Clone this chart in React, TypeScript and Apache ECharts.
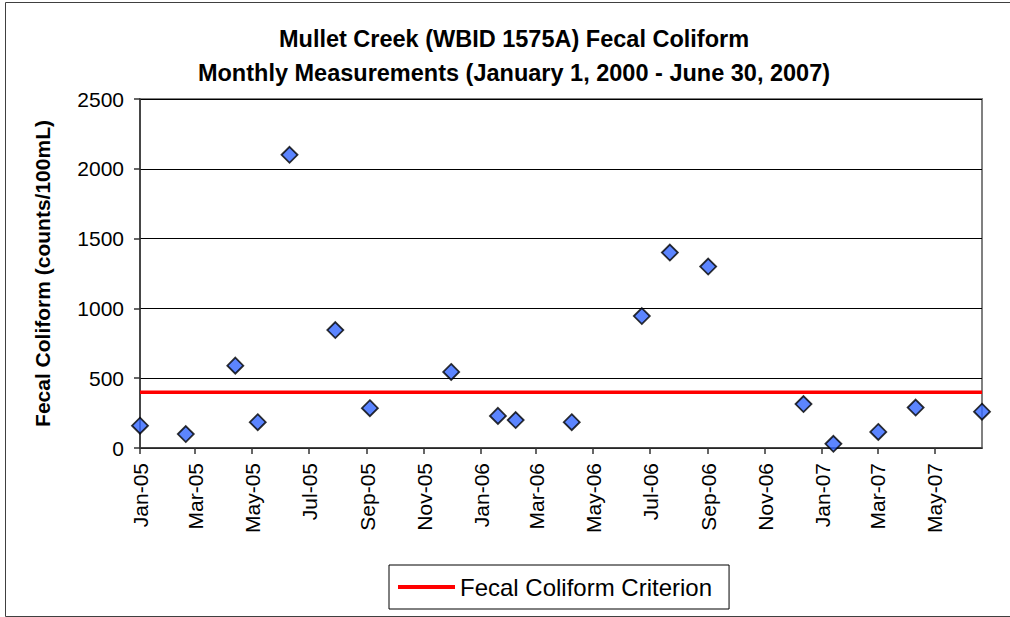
import React, { useEffect, useRef } from "react";
import * as echarts from "echarts";

const sampleDates = [
  "2005-01-01", "2005-02-19", "2005-04-13", "2005-05-07", "2005-06-10",
  "2005-07-29", "2005-09-04", "2005-11-30", "2006-01-19", "2006-02-07",
  "2006-04-08", "2006-06-22", "2006-07-22", "2006-09-01", "2006-12-12",
  "2007-01-13", "2007-03-02", "2007-04-11", "2007-06-21",
];
const fecalValues = [
  160, 100, 590, 185, 2100,
  845, 285, 545, 230, 200,
  185, 945, 1400, 1300, 315,
  30, 115, 290, 260,
];
const criterionDates = ["2005-01-01", "2007-06-21"];
const criterionValues = [400, 400];
const xTickDates = [
  "2005-01-01", "2005-03-01", "2005-05-01", "2005-07-01", "2005-09-01",
  "2005-11-01", "2006-01-01", "2006-03-01", "2006-05-01", "2006-07-01",
  "2006-09-01", "2006-11-01", "2007-01-01", "2007-03-01", "2007-05-01",
];
const monthAbbr = ["Jan", "Feb", "Mar", "Apr", "May", "Jun", "Jul", "Aug", "Sep", "Oct", "Nov", "Dec"];
const yMin = 0;
const yMax = 2500;
const yStep = 500;

const FONT = "'Liberation Sans', Arial, Helvetica, sans-serif";

function ts(d: string): number {
  const [y, m, dd] = d.split("-").map(Number);
  return Date.UTC(y, m - 1, dd);
}

function fmtTick(v: number): string {
  const d = new Date(v);
  const yy = String(d.getUTCFullYear() % 100).padStart(2, "0");
  return `${monthAbbr[d.getUTCMonth()]}-${yy}`;
}

export default function App() {
  const ref = useRef<HTMLDivElement>(null);

  useEffect(() => {
    document.body.style.margin = "0";
    if (!ref.current) return;
    const chart = echarts.init(ref.current, undefined, { renderer: "svg" });
    const tickTs = xTickDates.map(ts);
    const scatterData = sampleDates.map((d, i) => [ts(d), fecalValues[i]]);
    const critData = criterionDates.map((d, i) => [ts(d), criterionValues[i]]);

    chart.setOption({
      animation: false,
      backgroundColor: "#ffffff",
      title: {
        text: "Mullet Creek (WBID 1575A) Fecal Coliform\nMonthly Measurements (January 1, 2000 - June 30, 2007)",
        left: 514,
        textAlign: "center",
        top: 22,
        padding: 0,
        textStyle: {
          fontFamily: FONT,
          fontSize: 23.5,
          fontWeight: "bold",
          color: "#000",
          lineHeight: 34,
        },
      },
      graphic: [
        {
          type: "rect",
          shape: { x: 5.5, y: 2.5, width: 1010, height: 614 },
          style: { fill: "none", stroke: "#404040", lineWidth: 1 },
          silent: true,
        },
      ],
      legend: {
        data: [{ name: "Fecal Coliform Criterion", icon: "rect" }],
        left: 389,
        top: 565,
        itemWidth: 57,
        itemHeight: 4,
        padding: [10, 17, 10, 9],
        borderColor: "#000",
        borderWidth: 1,
        textStyle: { fontFamily: FONT, fontSize: 24, color: "#000" },
      },
      grid: {
        left: 140,
        top: 99,
        width: 842,
        height: 349,
        show: true,
        borderColor: "#808080",
        borderWidth: 2,
        backgroundColor: "transparent",
      },
      xAxis: {
        type: "value",
        min: ts(criterionDates[0]),
        max: ts(criterionDates[1]),
        axisLine: { show: true, onZero: false, lineStyle: { color: "#333", width: 1.5 } },
        axisTick: {
          show: true,
          length: 6,
          customValues: tickTs,
          lineStyle: { color: "#333", width: 1.5 },
        },
        axisLabel: {
          customValues: tickTs,
          rotate: 90,
          margin: 15,
          fontFamily: FONT,
          fontSize: 21,
          color: "#000",
          formatter: (v: number) => fmtTick(v),
        },
        splitLine: { show: false },
      },
      yAxis: {
        type: "value",
        min: yMin,
        max: yMax,
        interval: yStep,
        name: "Fecal Coliform (counts/100mL)",
        nameLocation: "middle",
        nameGap: 87,
        nameTextStyle: { fontFamily: FONT, fontSize: 21, fontWeight: "bold", color: "#000" },
        axisLine: { show: true, lineStyle: { color: "#333", width: 1.5 } },
        axisTick: { show: true, length: 6, lineStyle: { color: "#333", width: 1.5 } },
        axisLabel: {
          margin: 16,
          fontFamily: FONT,
          fontSize: 21,
          color: "#000",
          formatter: (v: number) => String(v),
        },
        splitLine: { show: true, lineStyle: { color: "#000", width: 1 } },
      },
      series: [
        {
          name: "Fecal Coliform Criterion",
          type: "line",
          data: critData,
          symbol: "none",
          z: 3,
          lineStyle: { color: "#ff0000", width: 3.5 },
          itemStyle: { color: "#ff0000" },
        },
        {
          name: "Fecal Coliform",
          type: "scatter",
          data: scatterData,
          symbol: "diamond",
          symbolSize: 16,
          clip: false,
          z: 4,
          itemStyle: { color: "#3366ff", borderColor: "#000", borderWidth: 1.8 },
        },
      ],
    });
    return () => chart.dispose();
  }, []);

  return <div ref={ref} style={{ width: 1010, height: 617 }} />;
}
